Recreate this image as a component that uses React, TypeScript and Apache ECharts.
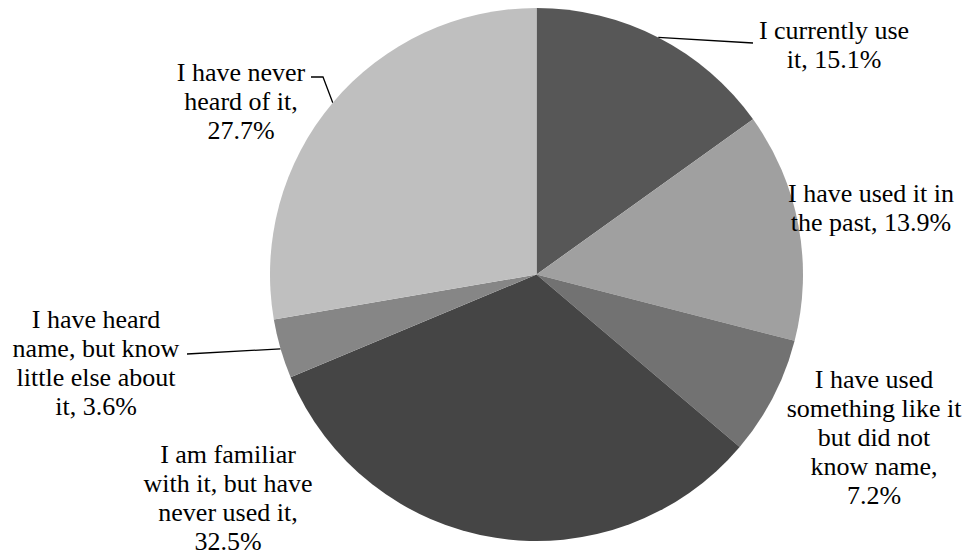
import React, { useEffect, useRef } from "react";
import * as echarts from "echarts";

// Survey answers, clockwise from 12 o'clock
const categories = [
  "I currently use\nit",
  "I have used it in\nthe past",
  "I have used\nsomething like it\nbut did not\nknow name",
  "I am familiar\nwith it, but have\nnever used it",
  "I have heard\nname, but know\nlittle else about\nit",
  "I have never\nheard of it",
];
const shares = [15.1, 13.9, 7.2, 32.5, 3.6, 27.7];
// whether the percentage goes on its own line
const shareOnNewLine = [false, false, true, true, false, true];
const sliceColors = ["#575757", "#a0a0a0", "#727272", "#454545", "#868686", "#bfbfbf"];

// label block centres and leader-line outer points
const labelCenters: [number, number][] = [
  [834, 45],
  [871, 208],
  [874, 437],
  [228, 498],
  [96, 363],
  [241, 101],
];
const leaderPaths: ([number, number][] | null)[] = [
  [[753, 43]],
  null,
  null,
  null,
  [[187, 354]],
  [[323, 77], [311, 77]],
];

export default function App() {
  const ref = useRef<HTMLDivElement>(null);

  useEffect(() => {
    if (!ref.current) return;
    const chart = echarts.init(ref.current, undefined, { renderer: "svg" });
    const data = categories.map((name, i) => ({
      name,
      value: shares[i],
      itemStyle: { color: sliceColors[i] },
      labelLine: { show: leaderPaths[i] !== null },
    }));
    chart.setOption({
      animation: false,
      backgroundColor: "#ffffff",
      series: [
        {
          type: "pie",
          center: [536.5, 274.5],
          radius: [0, 266.5],
          startAngle: 90,
          clockwise: true,
          avoidLabelOverlap: false,
          itemStyle: { borderWidth: 0 },
          emphasis: { disabled: true },
          label: {
            show: true,
            position: "outside",
            color: "#000000",
            fontFamily: "Liberation Serif",
            fontSize: 26,
            lineHeight: 29,
            align: "center",
            formatter: (p: any) =>
              `${p.name},${shareOnNewLine[p.dataIndex] ? "\n" : " "}${p.value}%`,
          },
          labelLine: {
            show: true,
            lineStyle: { color: "#000000", width: 1.3 },
          },
          labelLayout: (p: any) => {
            const i = p.dataIndex;
            const [cx, cy] = labelCenters[i];
            const out: any = { x: cx, y: cy, align: "center", verticalAlign: "middle" };
            const path = leaderPaths[i];
            if (path && p.labelLinePoints) {
              const start = p.labelLinePoints[0];
              const pts = [start, ...path];
              while (pts.length < 3) pts.push(pts[pts.length - 1]);
              out.labelLinePoints = pts;
            }
            return out;
          },
          data,
        },
      ],
    });
    return () => chart.dispose();
  }, []);

  return (
    <div
      ref={ref}
      style={{ position: "fixed", left: 0, top: 0, width: 967, height: 554 }}
    />
  );
}
